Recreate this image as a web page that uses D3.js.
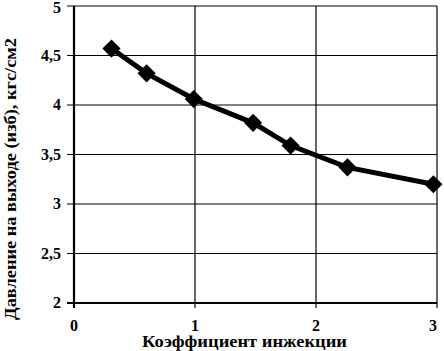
<!DOCTYPE html>
<html><head><meta charset="utf-8">
<script src="https://cdn.jsdelivr.net/npm/d3@7"></script>
<style>body{margin:0;background:#fff}svg{display:block}</style>
</head><body>
<svg id="c" width="444" height="351"></svg>
<script>
const xValues = [0.31, 0.6, 0.99, 1.48, 1.79, 2.26, 2.97];
const yValues = [4.57, 4.32, 4.06, 3.82, 3.59, 3.37, 3.2];
const xTicks = [0, 1, 2, 3];
const yTicks = [2, 2.5, 3, 3.5, 4, 4.5, 5];
const xTitle = "Коэффициент инжекции";
const yTitle = "Давление на выходе (изб), кгс/см2";

const svg = d3.select("#c");
const FONT = '"Liberation Serif", "Times New Roman", serif';
const x = d3.scaleLinear().domain([0, 3]).range([74, 437]);
const y = d3.scaleLinear().domain([2, 5]).range([303, 6]);

const fmt = d => String(d).replace(".", ",");

// horizontal grid
svg.append("g").selectAll("line").data(yTicks).join("line")
  .attr("x1", 67).attr("x2", x(3)).attr("y1", d => y(d)).attr("y2", d => y(d))
  .attr("stroke", "#000").attr("stroke-width", d => d === 2 ? 2 : 1.2);
// vertical grid
svg.append("g").selectAll("line").data(xTicks.filter(d => d > 0)).join("line")
  .attr("x1", d => x(d)).attr("x2", d => x(d)).attr("y1", y(5)).attr("y2", y(2) + 5)
  .attr("stroke", "#000").attr("stroke-width", 1.2);
// left axis
svg.append("line").attr("x1", x(0)).attr("x2", x(0)).attr("y1", y(5)).attr("y2", y(2) + 5)
  .attr("stroke", "#000").attr("stroke-width", 2.2);

// y tick labels
svg.append("g").selectAll("text").data(yTicks).join("text")
  .attr("x", 61).attr("y", d => Math.max(y(d) + 5, 13)).attr("text-anchor", "end")
  .style("font-family", FONT).style("font-size", "16px").style("font-weight", "bold")
  .text(fmt);
// x tick labels
svg.append("g").selectAll("text").data(xTicks).join("text")
  .attr("x", d => x(d)).attr("y", 331).attr("text-anchor", d => d === 3 ? "end" : "middle")
  .style("font-family", FONT).style("font-size", "16px").style("font-weight", "bold")
  .text(d => d);

// titles
svg.append("text").attr("x", 142).attr("y", 347)
  .attr("textLength", 205).attr("lengthAdjust", "spacingAndGlyphs")
  .style("font-family", FONT).style("font-size", "16px").style("font-weight", "bold")
  .text(xTitle);
svg.append("text").attr("transform", "translate(16,320) rotate(-90)")
  .attr("textLength", 282).attr("lengthAdjust", "spacingAndGlyphs")
  .style("font-family", FONT).style("font-size", "16px").style("font-weight", "bold")
  .text(yTitle);

// line
const data = xValues.map((v, i) => [v, yValues[i]]);
svg.append("path").datum(data)
  .attr("d", d3.line().x(d => x(d[0])).y(d => y(d[1])))
  .attr("fill", "none").attr("stroke", "#000").attr("stroke-width", 5);
svg.append("g").selectAll("path").data(data).join("path")
  .attr("transform", d => `translate(${x(d[0])},${y(d[1])})`)
  .attr("d", d3.symbol(d3.symbolDiamond2, 210)).attr("fill", "#000");
</script>
</body></html>
